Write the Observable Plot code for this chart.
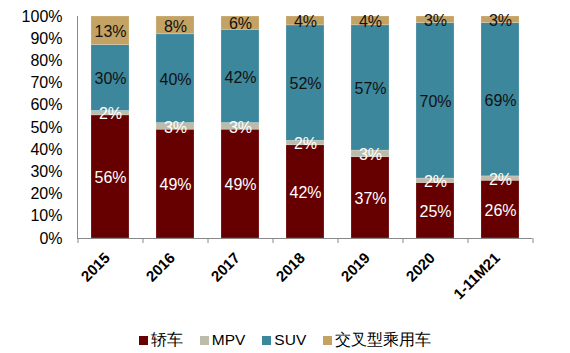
<!DOCTYPE html>
<html><head><meta charset="utf-8">
<script src="https://cdn.jsdelivr.net/npm/d3@7"></script>
<script src="https://cdn.jsdelivr.net/npm/@observablehq/plot@0.6"></script>
<style>
body{margin:0;background:#fff;font-family:"Liberation Sans",Arial,sans-serif;}
#chart svg{display:block;}
#legend{display:flex;justify-content:center;align-items:center;height:20px;font-size:15.5px;color:#000;padding-left:0px;}
#legend .item{display:flex;align-items:center;margin:0 8.5px;}
#legend .sw{width:9px;height:9px;margin-right:3px;}
</style></head><body><div id="chart"></div><div id="legend"></div>
<script>
const categories = ["2015","2016","2017","2018","2019","2020","1-11M21"];
const types = ["轿车","MPV","SUV","交叉型乘用车"];
const sedan = [56,49,49,42,37,25,26];
const mpv = [2,3,3,2,3,2,2];
const suv = [30,40,42,52,57,70,69];
const cross = [13,8,6,4,4,3,3];
const yTickLabels = [0,10,20,30,40,50,60,70,80,90,100];
const colors = ["#660000","#bdbba9","#3d879c","#c4a263"];
const labelColors = ["#ffffff","#ffffff","#111111","#111111"];

const series = [sedan, mpv, suv, cross];
const data = [];
categories.forEach((c, i) => types.forEach((t, j) => data.push({cat: c, type: t, value: series[j][i], lc: labelColors[j]})));

const W = 570, H = 330, mL = 77, mR = 38, mT = 16, mB = 92;
const step = (W - mL - mR) / categories.length;

const stackOpts = {x: "cat", y: "value", z: "type", order: types, offset: "normalize"};

const chart = Plot.plot({
  width: W, height: H,
  marginLeft: mL, marginRight: mR, marginTop: mT, marginBottom: mB,
  style: {fontFamily: "'Liberation Sans', Arial, sans-serif", fontSize: "16px", background: "#fff", color: "#000"},
  x: {domain: categories, paddingInner: 0.42, paddingOuter: 0.21, label: null, axis: null},
  y: {domain: [0, 1], label: null},
  color: {domain: types, range: colors},
  marks: [
    Plot.barY(data, Plot.stackY({...stackOpts, fill: "type", stroke: "#ffffff", strokeOpacity: 0.25, strokeWidth: 0.75})),
    Plot.text(data, Plot.stackY({...stackOpts, text: d => d.value + "%", fill: "lc", fontSize: 16, dy: 1})),
    Plot.frame({anchor: "left", stroke: "#888"}),
    Plot.ruleY([0], {stroke: "#888"}),
    Plot.ruleX(categories, {x: d => d, y1: 0, y2: 0, insetBottom: -5, dx: -step / 2, stroke: "#888"}),
    Plot.ruleX(categories.slice(-1), {x: d => d, y1: 0, y2: 0, insetBottom: -5, dx: step / 2, stroke: "#888"}),
    Plot.axisY({ticks: yTickLabels.map(v => v / 100), tickFormat: d => Math.round(d * 100) + "%", tickSize: 0, tickPadding: 15, label: null}),
    Plot.text(categories, {x: d => d, y: () => 0, text: d => d, rotate: -45, textAnchor: "end", lineAnchor: "middle", dx: -3, dy: 17, fontSize: 15, fontWeight: "bold", fill: "#000"})
  ]
});
document.getElementById("chart").appendChild(chart);

const legend = document.getElementById("legend");
types.forEach((t, j) => {
  const item = document.createElement("div");
  item.className = "item";
  item.innerHTML = `<span class="sw" style="background:${colors[j]}"></span><span>${t}</span>`;
  legend.appendChild(item);
});
</script>
</body></html>
